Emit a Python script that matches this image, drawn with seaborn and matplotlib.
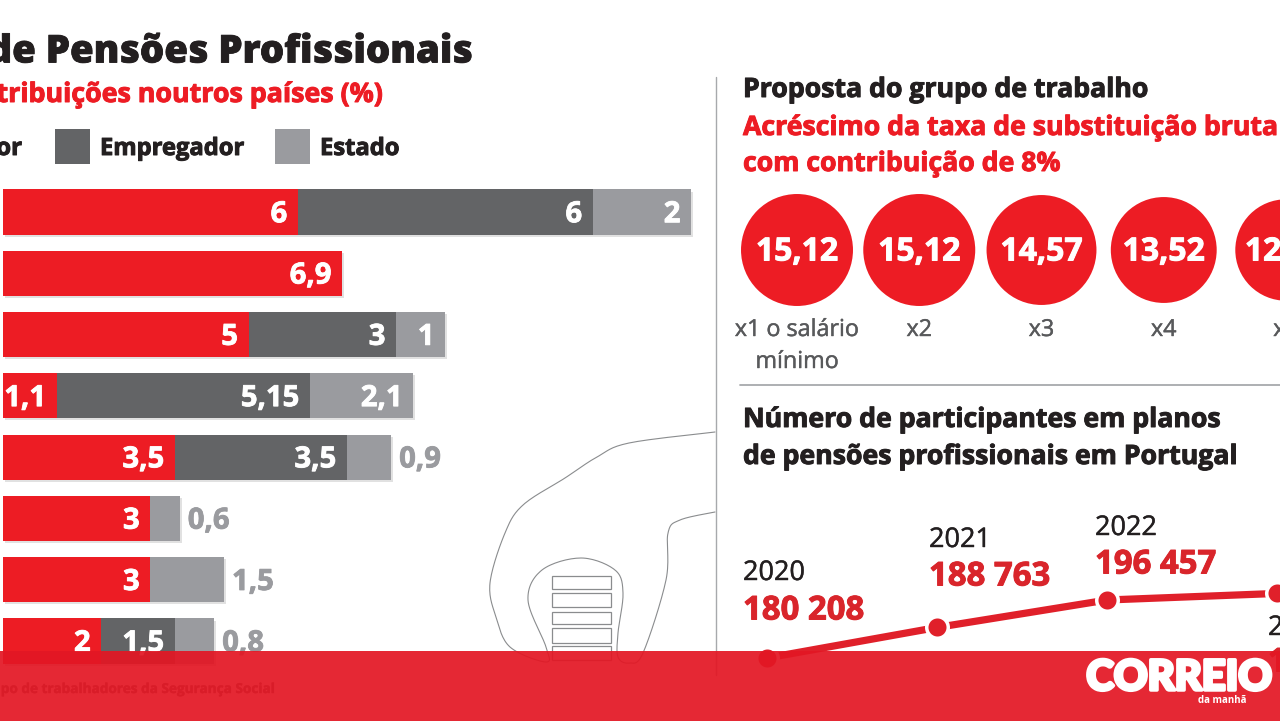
import matplotlib
matplotlib.use('Agg')
import matplotlib.pyplot as plt
import matplotlib.patheffects as pe
from matplotlib.patches import Rectangle
import numpy as np
import pandas as pd
import seaborn as sns

# Bars: contributions in other countries (%)
rows = ['p1', 'p2', 'p3', 'p4', 'p5', 'p6', 'p7', 'p8']
trabalhador = [6, 6.9, 5, 1.1, 3.5, 3, 3, 2]
empregador = [6, 0, 3, 5.15, 3.5, 0, 0, 1.5]
estado = [2, 0, 1, 2.1, 0.9, 0.6, 1.5, 0.8]

# Circles: replacement rate increase
salarios = ['x1 o salário\nmínimo', 'x2', 'x3', 'x4', 'x5']
acrescimo = [15.12, 15.12, 14.57, 13.52, 12.4]

# Line: participants (the last one is cut by the crop, estimated)
anos = [2020, 2021, 2022, 2023]
participantes = [180208, 188763, 196457, 198300]

RED = '#ED1C24'
DARK = '#636466'
GRAY = '#9A9B9F'
TXT = '#231F20'
FONT = 'Open Sans'

W, H = 1280, 721
sns.set_theme(style='white')
plt.rcParams['font.family'] = [FONT, 'DejaVu Sans']

fig = plt.figure(figsize=(W / 100, H / 100), dpi=100, facecolor='white')


def px_axes(x0, y0, x1, y1, z=1):
    ax = fig.add_axes([x0 / W, 1 - y1 / H, (x1 - x0) / W, (y1 - y0) / H], zorder=z)
    ax.patch.set_alpha(0)
    return ax


def fmt(v):
    return f'{v:g}'.replace('.', ',')


def thick(color, lw=0.7):
    return [pe.withStroke(linewidth=lw, foreground=color)]


# overlay in pixel coordinates for headings and decoration
deco = px_axes(0, 0, W, H, z=0)
deco.set_xlim(0, W)
deco.set_ylim(H, 0)
deco.axis('off')


def label(x, y, s, size, color=TXT, ha='left', weight='bold', stroke=0.7, **kw):
    deco.text(x, y + 3, s, fontsize=size, color=color, ha=ha, va='center', fontweight=weight,
              path_effects=thick(color, stroke) if stroke else None, **kw)


label(473, 49, 'de Pensões Profissionais', 27.6, ha='right', weight='heavy', stroke=0.6)
label(383, 92, 'Contribuições noutros países (%)', 19.3, color=RED, ha='right')
label(22, 146, 'Trabalhador', 17.3, ha='right')
label(100, 146, 'Empregador', 17.1)
label(320, 146, 'Estado', 17.1)
deco.add_patch(Rectangle((55, 129), 35, 35, color=DARK, lw=0))
deco.add_patch(Rectangle((275, 129), 35, 35, color=GRAY, lw=0))

label(743, 87, 'Proposta do grupo de trabalho', 19.2)
label(743, 125, 'Acréscimo da taxa de substituição bruta', 19.2, color=RED)
label(743, 161, 'com contribuição de 8%', 19.2, color=RED)
label(743, 417, 'Número de participantes em planos', 19.2)
label(743, 454, 'de pensões profissionais em Portugal', 19.2)
label(277, 686, 'Fonte: Grupo de trabalhadores da Segurança Social', 9.8, color=DARK, ha='right', stroke=0.3)

deco.plot([716, 716], [77, 675], color='#A7A9AC', lw=1)
deco.plot([740, 1280], [385, 385], color='#A7A9AC', lw=1.3)


# thin outline drawing behind the chart
def smooth(points, n=16):
    p = np.array(points, dtype=float)
    p = np.vstack([p[0], p, p[-1]])
    out = []
    for i in range(1, len(p) - 2):
        for t in np.linspace(0, 1, n, endpoint=False):
            out.append(0.5 * (2 * p[i] + (p[i + 1] - p[i - 1]) * t
                              + (2 * p[i - 1] - 5 * p[i] + 4 * p[i + 1] - p[i + 2]) * t ** 2
                              + (3 * p[i] - p[i - 1] - 3 * p[i + 1] + p[i + 2]) * t ** 3))
    out.append(p[-2])
    return np.array(out)


outline = [(715, 432), (629, 443), (597, 457), (565, 478), (523, 505), (505, 533), (490, 583),
           (496, 617), (510, 647), (546, 662), (546, 647), (528, 600), (542, 570), (581, 558),
           (615, 570), (623, 593), (618, 633), (618, 657), (629, 663), (643, 653), (666, 580),
           (668, 533), (680, 520), (715, 512)]
curve = smooth(outline)
deco.plot(curve[:, 0], curve[:, 1], color='#8A8C8E', lw=0.8)
for top, bottom in [(576, 589), (593, 607), (612, 624), (628, 643), (646, 660)]:
    deco.add_patch(Rectangle((552, top), 59, bottom - top, fill=False, ec='#8A8C8E', lw=0.9))

# stacked bars, x=0 at pixel 3 and 49.15 pixels per unit
bars = pd.DataFrame({'linha': rows, 'trabalhador': trabalhador, 'empregador': empregador, 'estado': estado})
bars['c1'] = bars['trabalhador']
bars['c2'] = bars['c1'] + bars['empregador']
bars['c3'] = bars['c2'] + bars['estado']

ax = px_axes(3, 181.35, 715, 671.65, z=2)
shadow = [pe.SimplePatchShadow(offset=(1.5, -1.5), alpha=0.14), pe.Normal()]
for col, color in [('c3', GRAY), ('c2', DARK), ('c1', RED)]:
    sns.barplot(data=bars, x=col, y='linha', color=color, saturation=1, width=0.735, linewidth=0, ax=ax)
for patch in ax.patches[:len(rows)]:
    patch.set_path_effects(shadow)
ax.set_xlim(0, 712 / 49.15)
ax.set_ylim(7.5, -0.5)
ax.axis('off')


def bar_text(x, i, s, color='white', ha='right'):
    ax.text(x, i + 0.045, s, color=color, fontsize=21, fontweight='bold', ha=ha, va='center',
            path_effects=thick(color, 0.6))


pad = 0.22
for i, r in bars.iterrows():
    bar_text(r['c1'] - pad, i, fmt(r['trabalhador']))
    if r['empregador'] > 0:
        bar_text(r['c2'] - pad, i, fmt(r['empregador']))
    if r['estado'] == 0:
        continue
    if r['empregador'] > 0 and r['estado'] >= 1:
        bar_text(r['c3'] - pad, i, fmt(r['estado']))
    else:
        bar_text(r['c3'] + 0.16, i, fmt(r['estado']), color=GRAY, ha='left')

# circles, area follows the value
step = 122.25
cx = px_axes(720, 180, W, 380, z=2)
circles = pd.DataFrame({'pos': range(len(salarios)), 'y': 0, 'valor': acrescimo})
sns.scatterplot(data=circles, x='pos', y='y', size='valor', size_norm=(0, 15.12), sizes=(0, 6500),
                color=RED, linewidth=0, legend=False, ax=cx)
cx.set_xlim((720 - 797) / step, (W - 797) / step)
cx.set_ylim(-130, 70)  # y=0 falls on pixel 250
cx.axis('off')
for i, v in enumerate(acrescimo):
    cx.text(i, -2, f'{v:.2f}'.replace('.', ','), color='white', fontsize=23, fontweight='bold',
            ha='center', va='center', path_effects=thick('white', 0.7))
    for j, part in enumerate(salarios[i].split('\n')):
        cx.text(i, -80 - 32 * j, part, color='#58595B', fontsize=16.8, ha='center', va='center',
                path_effects=thick('#58595B', 0.3))

# participants line
lx = px_axes(720, 500, W, 720, z=2)
line = pd.DataFrame({'ano': anos, 'n': participantes})
sns.lineplot(data=line, x='ano', y='n', color='#E0202A', linewidth=5.2, ax=lx)
sns.scatterplot(data=line, x='ano', y='n', color='#E0202A', s=240, edgecolor='white', linewidth=2.5,
                zorder=3, clip_on=False, ax=lx)
lx.set_xlim(2020 + (720 - 767) / 170, 2020 + (W - 767) / 170)
# 3.569 px per thousand, 180208 on pixel 658
lx.set_ylim(180208 - (720 - 658) / 3.569 * 1000, 180208 + (658 - 500) / 3.569 * 1000)
lx.axis('off')

year_pos = [(743, 570, 608), (929, 537, 574), (1095, 525, 562), (1268, 625, 660)]
for (x, y1, y2), a, n in zip(year_pos, anos, participantes):
    label(x, y1, str(a), 19.5, weight='normal', stroke=0.3)
    label(x, y2, f'{n:,}'.replace(',', ' '), 23.7, color='#D9252B')

# banner on top of everything
ban = px_axes(0, 651, W, H, z=5)
ban.set_xlim(0, W)
ban.set_ylim(H, 651)
ban.axis('off')
ban.add_patch(Rectangle((0, 651), W, 70, color='#E31724', alpha=0.93, lw=0))
ban.text(1179, 678, 'CORREIO', color='white', fontsize=30, fontweight='black', family='Lato',
         ha='center', va='center', path_effects=thick('white', 2.5))
ban.text(1222, 700, 'da manhã', color='white', fontsize=7, fontweight='bold', ha='center', va='center')

fig.savefig('out.png', dpi=100)
